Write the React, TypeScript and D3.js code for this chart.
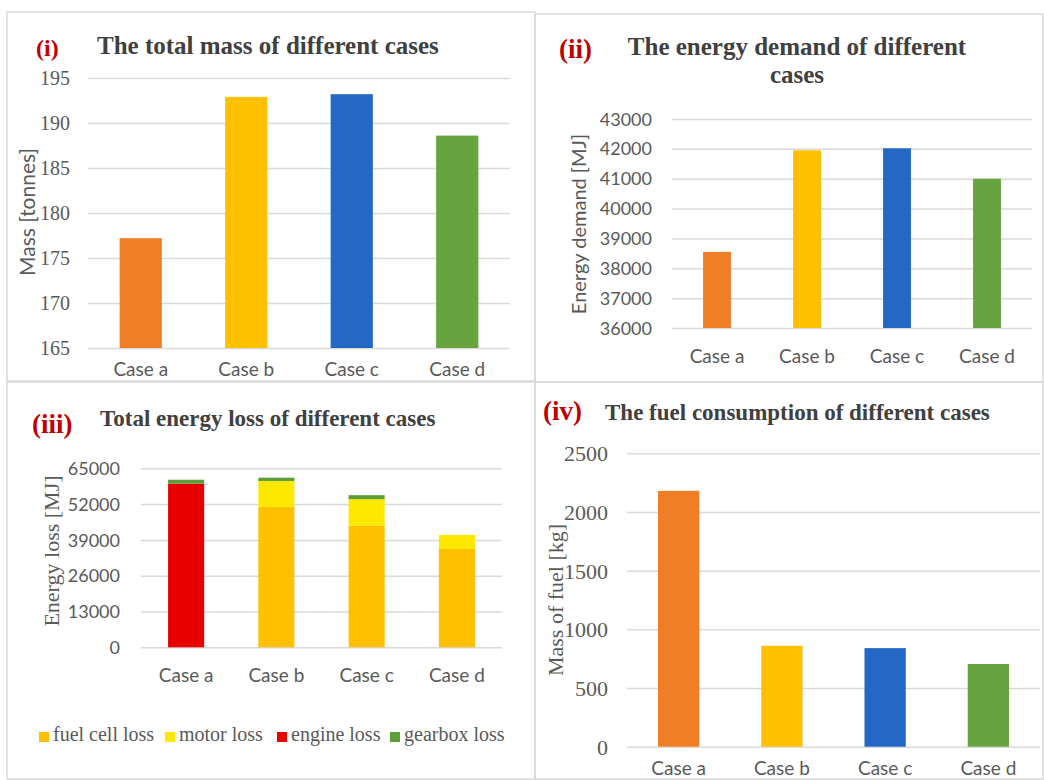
import React, { useRef, useEffect } from "react";
import * as d3 from "d3";

const cases = ["Case a", "Case b", "Case c", "Case d"];
const caseColors = ["#F07E26", "#FFC000", "#2468C5", "#67A33F"];

const massValues = [177.2, 192.9, 193.2, 188.6];
const massTicks = [165, 170, 175, 180, 185, 190, 195];

const demandValues = [38550, 41950, 42020, 41000];
const demandTicks = [36000, 37000, 38000, 39000, 40000, 41000, 42000, 43000];

const lossSeries = ["fuel cell loss", "motor loss", "engine loss", "gearbox loss"];
const lossColors = ["#FFC000", "#FFE800", "#E80000", "#5E9E3A"];
const fuelCellLoss = [0, 51000, 44100, 35700];
const motorLoss = [0, 9400, 9700, 5100];
const engineLoss = [59400, 0, 0, 0];
const gearboxLoss = [1450, 1200, 1450, 0];
const lossTicks = [0, 13000, 26000, 39000, 52000, 65000];

const fuelValues = [2180, 860, 840, 705];
const fuelTicks = [0, 500, 1000, 1500, 2000, 2500];

const SERIF = '"Liberation Serif", "Times New Roman", serif';
const SANS = 'Lato, "Open Sans", sans-serif';
const GRID = "#d9d9d9";
const LABEL = "#595959";
const TITLE = "#404040";
const RED = "#C00000";

const drawGrid = (g, xScale, yScale, ticks, labelX, font, size) => {
  const [x0, x1] = xScale.range();
  const yAxis = d3
    .axisLeft(yScale)
    .tickValues(ticks)
    .tickSize(-(x1 - x0))
    .tickPadding(x0 - labelX)
    .tickFormat(d3.format("d"));
  const ax = g.append("g").attr("transform", `translate(${x0},0)`).call(yAxis);
  ax.select(".domain").remove();
  ax.selectAll("line").attr("stroke", GRID).attr("stroke-width", 1.5);
  ax.selectAll("text")
    .attr("fill", LABEL)
    .attr("dy", "0.34em")
    .style("font-family", font)
    .style("font-size", `${size}px`);
};

const drawCategories = (g, xScale, baseline, size) => {
  g.append("g")
    .selectAll("text")
    .data(cases)
    .join("text")
    .attr("x", (d) => xScale(d) + xScale.bandwidth() / 2)
    .attr("y", baseline)
    .attr("fill", LABEL)
    .attr("text-anchor", "middle")
    .style("font-family", SANS)
    .style("font-size", `${size}px`)
    .text((d) => d);
};

const drawBars = (g, xScale, yScale, values) => {
  const base = yScale.range()[0];
  g.append("g")
    .selectAll("rect")
    .data(values)
    .join("rect")
    .attr("x", (d, i) => xScale(cases[i]))
    .attr("width", xScale.bandwidth())
    .attr("y", (d) => yScale(d))
    .attr("height", (d) => base - yScale(d))
    .attr("fill", (d, i) => caseColors[i]);
};

const drawTitle = (g, tag, tagX, tagY, tagSize, lines, x, y, size, anchor) => {
  g.append("text")
    .attr("x", tagX)
    .attr("y", tagY)
    .attr("fill", RED)
    .style("font-family", SERIF)
    .style("font-weight", "bold")
    .style("font-size", `${tagSize}px`)
    .text(tag);
  lines.forEach((line, i) => {
    g.append("text")
      .attr("x", x)
      .attr("y", y + i * 28)
      .attr("fill", TITLE)
      .attr("text-anchor", anchor)
      .style("font-family", SERIF)
      .style("font-weight", "bold")
      .style("font-size", `${size}px`)
      .text(line);
  });
};

const drawYLabel = (g, label, cx, cy, font, size) => {
  g.append("text")
    .attr("transform", `translate(${cx},${cy}) rotate(-90)`)
    .attr("dy", "0.35em")
    .attr("text-anchor", "middle")
    .attr("fill", LABEL)
    .style("font-family", font)
    .style("font-size", `${size}px`)
    .text(label);
};

const drawFrame = (g, x0, y0, x1, y1) => {
  g.append("rect")
    .attr("x", x0)
    .attr("y", y0)
    .attr("width", x1 - x0)
    .attr("height", y1 - y0)
    .attr("fill", "none")
    .attr("stroke", GRID)
    .attr("stroke-width", 1.5);
};

const App = () => {
  const svgRef = useRef(null);

  useEffect(() => {
    const svg = d3.select(svgRef.current);
    svg.selectAll("*").remove();
    const g = svg.append("g");

    drawFrame(g, 7, 12, 535, 381);
    drawFrame(g, 535, 14, 1043, 382);
    drawFrame(g, 7, 382, 535, 779);
    drawFrame(g, 535, 382, 1043, 779);

    // (i) total mass
    const x1 = d3.scaleBand().domain(cases).range([88, 510]).paddingInner(0.6).paddingOuter(0.3);
    const y1 = d3.scaleLinear().domain([165, 195]).range([348, 78]);
    drawGrid(g, x1, y1, massTicks, 70, SERIF, 20);
    drawBars(g, x1, y1, massValues);
    drawCategories(g, x1, 376, 19);
    drawYLabel(g, "Mass [tonnes]", 28, 212, SANS, 21);
    drawTitle(g, "(i)", 36, 56, 24, ["The total mass of different cases"], 97, 54, 25, "start");

    // (ii) energy demand
    const x2 = d3.scaleBand().domain(cases).range([672, 1032]).paddingInner(0.69).paddingOuter(0.345);
    const y2 = d3.scaleLinear().domain([36000, 43000]).range([328, 119]);
    drawGrid(g, x2, y2, demandTicks, 652, SANS, 18);
    drawBars(g, x2, y2, demandValues);
    drawCategories(g, x2, 363, 19);
    drawYLabel(g, "Energy demand [MJ]", 579, 224, SANS, 20);
    drawTitle(g, "(ii)", 559, 58, 27, ["The energy demand of different", "cases"], 797, 55, 25, "middle");

    // (iii) total energy loss, stacked
    const x3 = d3.scaleBand().domain(cases).range([141, 502]).paddingInner(0.6).paddingOuter(0.3);
    const y3 = d3.scaleLinear().domain([0, 65000]).range([647.3, 468.3]);
    drawGrid(g, x3, y3, lossTicks, 120, SANS, 18);
    const lossTable = cases.map((c, i) => ({
      case: c,
      "fuel cell loss": fuelCellLoss[i],
      "motor loss": motorLoss[i],
      "engine loss": engineLoss[i],
      "gearbox loss": gearboxLoss[i],
    }));
    const stacked = d3.stack().keys(lossSeries)(lossTable);
    g.append("g")
      .selectAll("g")
      .data(stacked)
      .join("g")
      .attr("fill", (d, i) => lossColors[i])
      .selectAll("rect")
      .data((d) => d)
      .join("rect")
      .attr("x", (d) => x3(d.data.case))
      .attr("width", x3.bandwidth())
      .attr("y", (d) => y3(d[1]))
      .attr("height", (d) => y3(d[0]) - y3(d[1]));
    drawCategories(g, x3, 682, 19);
    drawYLabel(g, "Energy loss [MJ]", 51, 551, SERIF, 22);
    drawTitle(g, "(iii)", 32, 433, 27, ["Total energy loss of different cases"], 100, 426, 23, "start");

    const legendX = [39, 165, 277, 390];
    const legend = g.append("g");
    legend
      .selectAll("rect")
      .data(lossSeries)
      .join("rect")
      .attr("x", (d, i) => legendX[i])
      .attr("y", 732)
      .attr("width", 10)
      .attr("height", 10)
      .attr("fill", (d, i) => lossColors[i]);
    legend
      .selectAll("text")
      .data(lossSeries)
      .join("text")
      .attr("x", (d, i) => legendX[i] + 14)
      .attr("y", 741)
      .attr("fill", LABEL)
      .style("font-family", SERIF)
      .style("font-size", "20px")
      .text((d) => d);

    // (iv) fuel consumption
    const x4 = d3.scaleBand().domain(cases).range([627, 1040]).paddingInner(0.6).paddingOuter(0.3);
    const y4 = d3.scaleLinear().domain([0, 2500]).range([746.7, 453.3]);
    drawGrid(g, x4, y4, fuelTicks, 608, SERIF, 22);
    drawBars(g, x4, y4, fuelValues);
    drawCategories(g, x4, 775, 19);
    drawYLabel(g, "Mass of fuel [kg]", 555, 600, SERIF, 22);
    drawTitle(g, "(iv)", 543, 420, 27, ["The fuel consumption of different cases"], 605, 420, 23, "start");
  }, []);

  return (
    <svg
      ref={svgRef}
      width={1044}
      height={780}
      style={{ position: "absolute", left: 0, top: 0, background: "#fff" }}
    />
  );
};

export default App;
